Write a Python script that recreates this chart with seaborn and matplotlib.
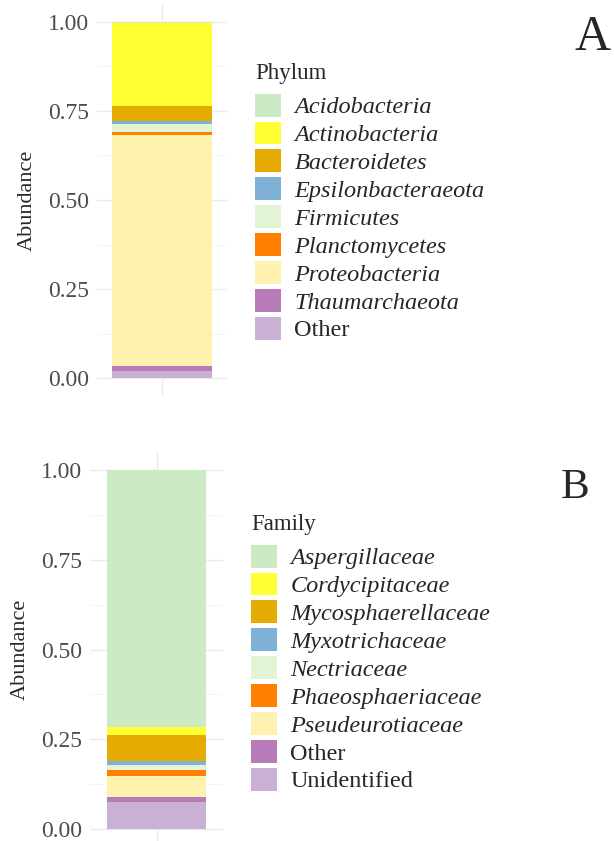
import matplotlib
matplotlib.use("Agg")
import matplotlib.pyplot as plt
from matplotlib.patches import Patch
import seaborn as sns
import pandas as pd

# Relative abundance, listed in legend order (first level sits on top of the stack)
phylum = ['Acidobacteria', 'Actinobacteria', 'Bacteroidetes', 'Epsilonbacteraeota',
          'Firmicutes', 'Planctomycetes', 'Proteobacteria', 'Thaumarchaeota', 'Other']
phylum_abund = [0.004, 0.232, 0.042, 0.009, 0.022, 0.008, 0.650, 0.014, 0.019]

family = ['Aspergillaceae', 'Cordycipitaceae', 'Mycosphaerellaceae', 'Myxotrichaceae',
          'Nectriaceae', 'Phaeosphaeriaceae', 'Pseudeurotiaceae', 'Other', 'Unidentified']
family_abund = [0.717, 0.021, 0.072, 0.013, 0.013, 0.015, 0.061, 0.013, 0.075]

colors = ['#CCEBC5', '#FFFF33', '#E6AB02', '#7FB0D5', '#E3F4D4',
          '#FF7F00', '#FFF2AE', '#B77BBA', '#C9B1D6']
plain = ['Other', 'Unidentified']  # labels not in italics

sns.set_style('white')
plt.rcParams['font.family'] = ['Liberation Serif', 'DejaVu Serif']

fig = plt.figure(figsize=(6.14, 8.41), dpi=100)
W, H = 614, 841


def px_axes(left, top, right, bottom):
    return fig.add_axes([left / W, 1 - bottom / H, (right - left) / W, (bottom - top) / H])


def panel(ax, names, values, title, leg_xy, half):
    df = pd.DataFrame({'sample': 0, 'taxon': names, 'Abundance': values})
    # seaborn puts the first hue level on top of the stack
    sns.histplot(data=df, x='sample', weights='Abundance', hue='taxon',
                 hue_order=names, palette=dict(zip(names, colors)),
                 multiple='stack', discrete=True, shrink=0.9, linewidth=0,
                 alpha=1, legend=False, ax=ax)
    ax.set_xlim(-half, half)
    ax.set_ylim(-0.05, 1.05)
    ax.set_yticks([0, 0.25, 0.5, 0.75, 1.0])
    ax.set_yticklabels(['0.00', '0.25', '0.50', '0.75', '1.00'])
    ax.set_yticks([0.125, 0.375, 0.625, 0.875], minor=True)
    ax.set_xticks([0])
    ax.set_xticklabels([''])
    ax.tick_params(axis='both', which='both', length=0)
    ax.tick_params(axis='y', labelsize=17, labelcolor='#4D4D4D', pad=6)
    ax.grid(True, which='major', color='#EBEBEB', linewidth=1.0)
    ax.grid(True, which='minor', axis='y', color='#F2F2F2', linewidth=0.6)
    ax.set_axisbelow(True)
    for s in ax.spines.values():
        s.set_visible(False)
    ax.set_xlabel('')
    ax.set_ylabel('Abundance', fontsize=16, labelpad=8)

    handles = [Patch(facecolor=c, edgecolor='none') for c in colors]
    leg = ax.legend(handles, names, loc='upper left',
                    bbox_to_anchor=(leg_xy[0] / W, 1 - leg_xy[1] / H),
                    bbox_transform=fig.transFigure, frameon=False,
                    borderpad=0, borderaxespad=0, labelspacing=0.13,
                    handlelength=1.07, handleheight=1.07, handletextpad=0.55,
                    prop={'size': 17.5, 'style': 'italic'},
                    title=title, title_fontproperties={'size': 16.5},
                    alignment='left')
    for t in leg.get_texts():
        if t.get_text() in plain:
            t.set_fontstyle('normal')
    leg._legend_box.sep = 7


axA = px_axes(97, 4, 227, 396)
panel(axA, phylum, phylum_abund, 'Phylum', (255, 63), 0.59)

axB = px_axes(90, 452, 223, 847)
panel(axB, family, family_abund, 'Family', (251, 514), 0.61)

fig.text(593 / W, 1 - 50 / H, 'A', fontsize=36, ha='center', va='baseline')
fig.text(575 / W, 1 - 498 / H, 'B', fontsize=31, ha='center', va='baseline')

fig.savefig('out.png', dpi=100)
